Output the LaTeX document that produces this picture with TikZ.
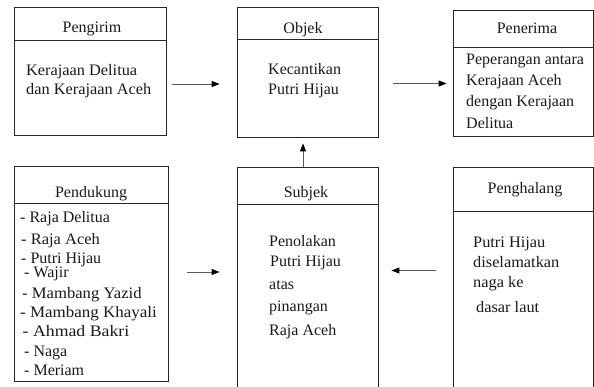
\documentclass[tikz,border=0pt]{standalone}
\usepackage{fontspec}
\setmainfont{Liberation Serif}
\usetikzlibrary{arrows.meta}
\begin{document}
\begin{tikzpicture}[x=1pt,y=-1pt,
  box/.style={draw=black!85, line width=0.8pt, inner sep=0pt},
  rule/.style={draw=black!85, line width=0.8pt},
  txt/.style={font=\fontsize{16}{20}\selectfont, text=black!90, inner sep=0pt, anchor=base west},
  head/.style={font=\fontsize{16}{20}\selectfont, text=black!90, inner sep=0pt, anchor=base},
  link/.style={draw=black!65, line width=1pt, -{Triangle[length=8pt,width=6pt,color=black]}},
]
\useasboundingbox (0,0) rectangle (594,386);

% actant boxes
\node[box, minimum width=152pt, minimum height=128pt]   (pengirim)   at (90,71) {};
\node[box, minimum width=141pt, minimum height=130pt]   (objek)      at (307.5,72) {};
\node[box, minimum width=140pt, minimum height=126pt]   (penerima)   at (523,73) {};
\node[box, minimum width=154pt, minimum height=215.5pt] (pendukung)  at (91,273.75) {};
\node[box, minimum width=140.5pt, minimum height=225pt] (subjek)     at (307.75,279.5) {};
\node[box, minimum width=140.5pt, minimum height=225pt] (penghalang) at (523.25,279.5) {};

% header rules
\draw[rule] (pengirim.west |- 0,40)     -- (pengirim.east |- 0,40);
\draw[rule] (objek.west |- 0,39)        -- (objek.east |- 0,39);
\draw[rule] (penerima.west |- 0,47)     -- (penerima.east |- 0,47);
\draw[rule] (pendukung.west |- 0,203.5) -- (pendukung.east |- 0,203.5);
\draw[rule] (subjek.west |- 0,204)      -- (subjek.east |- 0,204);
\draw[rule] (penghalang.west |- 0,211.5) -- (penghalang.east |- 0,211.5);

% headers
\node[head] (h-pengirim)   at (92,32)    {Pengirim};
\node[head] (h-objek)      at (303,33)   {Objek};
\node[head] (h-penerima)   at (527,33)   {Penerima};
\node[head] (h-pendukung)  at (91,197)   {Pendukung};
\node[head] (h-subjek)     at (306,197.5) {Subjek};
\node[head] (h-penghalang) at (525,193)  {Penghalang};

% box contents
\foreach \t/\y [count=\i] in {Kerajaan Delitua/75, dan Kerajaan Aceh/94}
  \node[txt] (pengirim-\i) at (26,\y) {\scalebox{1.02}[1]{\t}};
\foreach \t/\y [count=\i] in {Kecantikan/74, Putri Hijau/94}
  \node[txt] (objek-\i) at (268,\y) {\t};
\foreach \t/\y [count=\i] in {Peperangan antara/64, Kerajaan Aceh/85, dengan Kerajaan/106, Delitua/128}
  \node[txt] (penerima-\i) at (466,\y) {\t};
\foreach \t/\x/\y/\s [count=\i] in {Raja Delitua/20/222/1, Raja Aceh/21/244/1.03,
    Putri Hijau/21/263/1, Wajir/24/277.5/1, Mambang Yazid/22/298/1.04,
    Mambang Khayali/20/317/1.06, Ahmad Bakri/22.5/336/1.11, Naga/24/356/1,
    Meriam/24/375/1}
  \node[txt] (pendukung-\i) at (\x,\y) {\scalebox{\s}[1]{- \t}};
\foreach \t/\x/\y [count=\i] in {Penolakan/269/246, Putri Hijau/270/266, atas/269/289,
    pinangan/269/311, Raja Aceh/269/335}
  \node[txt] (subjek-\i) at (\x,\y) {\t};
\foreach \t/\x/\y [count=\i] in {Putri Hijau/473/247, diselamatkan/473/267, naga ke/473/287,
    dasar laut/476/312}
  \node[txt] (penghalang-\i) at (\x,\y) {\scalebox{1.02}[1]{\t}};

% connectors
\draw[link, shorten <=6pt, shorten >=17pt]   (pengirim.east |- 0,84)   -- (objek.west |- 0,84);
\draw[link, shorten <=15pt, shorten >=6pt]   (objek.east |- 0,83.5)    -- (penerima.west |- 0,83.5);
\draw[link, shorten <=19pt, shorten >=17.5pt] (pendukung.east |- 0,272) -- (subjek.west |- 0,272);
\draw[link, shorten <=17pt, shorten >=13pt]  (penghalang.west |- 0,270.5) -- (subjek.east |- 0,270.5);
\draw[link, shorten >=6pt] (subjek.north -| 303,0) -- (objek.south -| 303,0);
\end{tikzpicture}
\end{document}
